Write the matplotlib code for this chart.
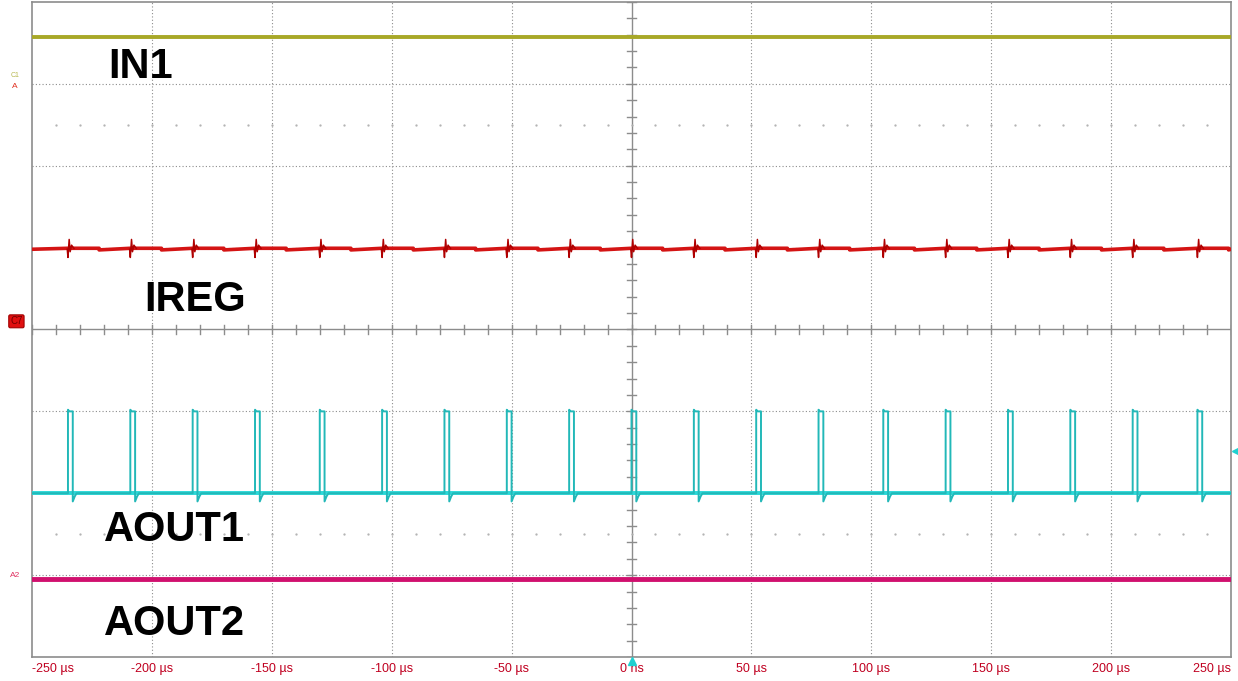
import matplotlib.pyplot as plt
import numpy as np

plt.rcParams['font.family'] = ['Liberation Sans', 'DejaVu Sans']

# time axis, µs
x_ticks = [-250, -200, -150, -100, -50, 0, 50, 100, 150, 200, 250]
x_labels = ["-250 µs", "-200 µs", "-150 µs", "-100 µs", "-50 µs", "0 ns",
            "50 µs", "100 µs", "150 µs", "200 µs", "250 µs"]

# channel levels in divisions (screen centre = 0)
in1_level = 3.57
ireg_level = 0.98
aout1_low = -2.0
aout1_high = -1.0
aout2_level = -3.05

# AOUT1 pulse start times, µs
pulse_t = [-235, -209, -183, -157, -130, -104, -78, -52, -26, 0,
           26, 52, 78, 105, 131, 157, 183, 209, 236]
pulse_w = 2.0

labels = ["IN1", "IREG", "AOUT1", "AOUT2"]


def pulse_trace(times, width, lo, hi):
    xs = [-250]
    ys = [lo]
    for t in times:
        xs += [t, t, t + 0.6, t + width, t + width, t + width + 0.8, t + width + 1.6]
        ys += [lo, hi + 0.02, hi, hi, lo - 0.1, lo - 0.04, lo]
    xs.append(250)
    ys.append(lo)
    return np.array(xs), np.array(ys)


def ireg_spikes(times, base):
    xs = []
    ys = []
    for t in times:
        xs += [t - 0.3, t, t + 0.5, t + 0.9, t + 1.5, t + 2.5, np.nan]
        ys += [base, base - 0.1, base + 0.12, base - 0.03, base + 0.05,
               base + 0.01, np.nan]
    return np.array(xs), np.array(ys)


def ireg_base(times, base):
    xs = [-250]
    ys = [base]
    for t in times:
        xs += [t, t + 13, t + 13]
        ys += [base + 0.012, base + 0.012, base - 0.008]
    xs.append(250)
    ys.append(base)
    return np.array(xs), np.array(ys)


fig = plt.figure(figsize=(12.38, 6.81), dpi=100)
ax = fig.add_axes([32 / 1238, 24 / 681, 1199 / 1238, 655 / 681])
ax.set_xlim(-250, 250)
ax.set_ylim(-4, 4)

grid_c = '#8c8c8c'
# dotted grid
for gx in x_ticks[1:-1]:
    if gx != 0:
        ax.axvline(gx, color=grid_c, lw=0.8, ls=(0, (1, 2)), zorder=1)
for gy in range(-3, 4):
    if gy != 0:
        ax.axhline(gy, color=grid_c, lw=0.8, ls=(0, (1, 2)), zorder=1)
# centre cross with minor ticks
ax.axhline(0, color=grid_c, lw=1.0, zorder=1)
ax.axvline(0, color=grid_c, lw=1.0, zorder=1)
for mx in np.arange(-250, 251, 10):
    ax.plot([mx, mx], [-0.05, 0.05], color=grid_c, lw=1.0, zorder=1)
for my in np.arange(-4, 4.01, 0.2):
    ax.plot([-1.7, 1.7], [my, my], color=grid_c, lw=1.0, zorder=1)
# faint sub-division dots
dx = np.arange(-240, 250, 10)
for ry in [2.5, -2.5]:
    ax.scatter(dx, np.full(len(dx), ry), s=0.4, color='#b0b0b0', zorder=1)

# traces
ax.plot([-250, 250], [in1_level, in1_level], color='#a8a828', lw=2.8, zorder=3)

bx, by = ireg_base(pulse_t, ireg_level)
ax.plot(bx, by, color='#d41414', lw=2.6, zorder=3)
sx, sy = ireg_spikes(pulse_t, ireg_level)
ax.plot(sx, sy, color='#b00000', lw=1.1, zorder=4)

ax.plot([-250, 250], [aout1_low, aout1_low], color='#2ad8d8', lw=2.8, zorder=3)
px, py = pulse_trace(pulse_t, pulse_w, aout1_low, aout1_high)
ax.plot(px, py, color='#22b8b8', lw=1.4, zorder=4)

ax.plot([-250, 250], [aout2_level, aout2_level], color='#d0106e', lw=3.5, zorder=3)

# channel names
name_pos = [(-218, 3.2), (-203, 0.36), (-220, -2.45), (-220, -3.6)]
for name, (tx, ty) in zip(labels, name_pos):
    ax.text(tx, ty, name, fontsize=30, fontweight='bold', color='black',
            ha='left', va='center', zorder=5)

# scope markers
ax.text(-257, 3.1, "C1", fontsize=5, color='#b8b850', ha='center', va='center',
        clip_on=False)
ax.text(-257, 2.97, "A", fontsize=6, color='#e03020', ha='center', va='center',
        clip_on=False)
ax.text(-256.5, 0.1, "C7", fontsize=7, color='#700000', ha='center', va='center',
        clip_on=False,
        bbox=dict(boxstyle='round,pad=0.15', fc='#e01010', ec='#a00000', lw=0.8))
ax.text(-257, -3.0, "A2", fontsize=6, color='#e03060', ha='center', va='center',
        clip_on=False)
ax.plot([251.5], [-1.48], marker='<', color='#20d0d0', ms=4, clip_on=False)
ax.plot([0], [-4.05], marker='^', color='#20d0d0', ms=6, clip_on=False, zorder=6)

ax.set_xticks(x_ticks, x_labels)
ax.set_yticks([])
ax.tick_params(axis='x', length=0, pad=4, labelsize=9, labelcolor='#c00020')
tl = ax.get_xticklabels()
tl[0].set_ha('left')
tl[-1].set_ha('right')

for sp in ax.spines.values():
    sp.set_color(grid_c)
    sp.set_linewidth(1.2)

fig.savefig('out.png', dpi=100)
